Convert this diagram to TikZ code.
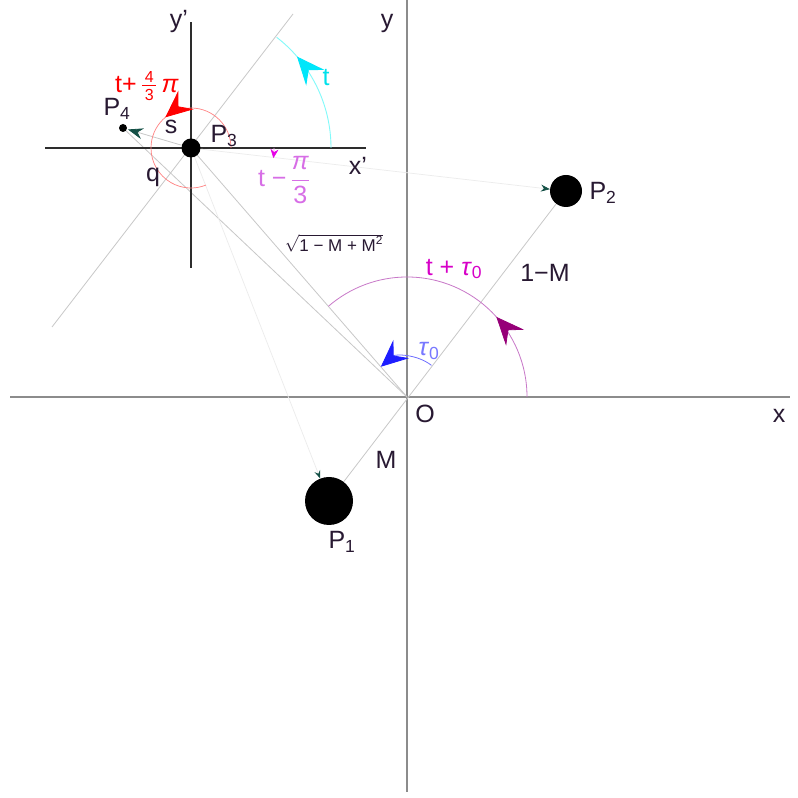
\documentclass[tikz,border=0pt]{standalone}
\usepackage{fontspec}
\setmainfont{Liberation Sans}
\usepackage{amsmath}
\usetikzlibrary{arrows.meta,decorations.markings,calc}
\definecolor{txt}{RGB}{40,25,50}
\definecolor{axisgray}{RGB}{140,140,140}
\definecolor{pgray}{RGB}{45,45,45}
\definecolor{lgray}{RGB}{200,200,200}
\definecolor{fgray}{RGB}{236,236,236}
\definecolor{cyanarc}{RGB}{130,250,250}
\definecolor{cyanarrow}{RGB}{0,230,250}
\definecolor{cyantext}{RGB}{0,225,235}
\definecolor{redarc}{RGB}{255,130,130}
\definecolor{redarrow}{RGB}{255,0,0}
\definecolor{magarc}{RGB}{200,120,200}
\definecolor{magarrow}{RGB}{150,0,120}
\definecolor{magtext}{RGB}{215,0,200}
\definecolor{bluearc}{RGB}{110,110,255}
\definecolor{bluearrow}{RGB}{30,30,255}
\definecolor{bluetext}{RGB}{120,120,255}
\definecolor{violtext}{RGB}{215,110,230}
\definecolor{violarrow}{RGB}{230,0,230}
\definecolor{dgreen}{RGB}{20,80,70}
\newcommand{\smallfr}[1]{\text{\fontsize{16}{17}\selectfont #1}}
\begin{document}
\begin{tikzpicture}[x=1pt,y=1pt,
  font=\fontsize{25}{28}\selectfont,
  every node/.style={text=txt, inner sep=0pt},
  axisline/.style={draw=axisgray, line width=1.8pt},
  paxis/.style={draw=pgray, line width=2.5pt},
  thinline/.style={draw=lgray, line width=0.8pt},
  faintline/.style={draw=fgray, line width=0.7pt},
  dot/.style={circle, fill=black, inner sep=0pt, minimum size=#1},
  midarrow/.style 2 args={postaction={decorate, decoration={markings, mark=at position #1 with {\arrow{#2}}}}}
]
\useasboundingbox (0,0) rectangle (798,798);
\fill[white] (0,0) rectangle (798,798);

\coordinate (O) at (407,401);
\coordinate (P1) at (329,297);
\coordinate (P2) at (566,607);
\coordinate (P3) at (191,650);
\coordinate (P4) at (123,670);
\coordinate (xl) at (10,401);
\coordinate (xr) at (790,401);
\coordinate (yb) at (407,6);
\coordinate (yt) at (407,798);
\coordinate (xpl) at (45,650);
\coordinate (xpr) at (366,650);
\coordinate (ypb) at (191,530);
\coordinate (ypt) at (191,776);
\coordinate (la) at (52,471);
\coordinate (lb) at (293,784);

% axes
\draw[axisline] (xl) -- (xr);
\draw[axisline] (yb) -- (yt);
% thin construction lines
\draw[thinline] (la) -- (lb);
\draw[thinline] (P1) -- (P2);
\draw[thinline] (O) -- (P3);
\draw[thinline] (O) -- (P4);
% rotating axes
\draw[paxis] (xpl) -- (xpr);
\draw[paxis] (ypb) -- (ypt);

% bodies
\node[dot=48pt] (d1) at (P1) {};
\node[dot=32pt] (d2) at (P2) {};
\node[dot=19pt] (d3) at (P3) {};
\node[dot=8pt] (d4) at (P4) {};

% connectors with small arrows
\draw[faintline, -{Stealth[length=9pt,width=7pt,inset=3pt,color=dgreen]}] (d3) -- (d2);
\draw[faintline, -{Stealth[length=8pt,width=6pt,inset=3pt,color=dgreen]}] (d3) -- (d1);
\draw[thinline, -{Stealth[length=15pt,width=11pt,inset=5pt,color=dgreen]}, shorten >=1pt] (d3) -- (d4);

% angle arcs
\draw[cyanarc, line width=0.9pt, midarrow={0.78}{Stealth[length=28pt,width=24pt,inset=10pt,color=cyanarrow]}]
  ($(P3)+(140,0)$) arc[start angle=0, end angle=52.3, radius=140];
\draw[redarc, line width=0.7pt, midarrow={0.445}{Stealth[length=27pt,width=24pt,inset=10pt,color=redarrow]}]
  ($(P3)+(40,0)$) arc[start angle=0, end angle=292, radius=40];
\draw[violarrow!40, line width=0.6pt, -{Stealth[length=9pt,width=8pt,inset=3pt,color=violarrow]}]
  ($(P3)+(83,0)$) arc[start angle=0, end angle=-7, radius=83];
\draw[magarc, line width=0.8pt, midarrow={0.32}{Stealth[length=28pt,width=24pt,inset=10pt,color=magarrow]}]
  ($(O)+(120,0)$) arc[start angle=0, end angle=130.9, radius=120];
\draw[bluearc, line width=0.8pt, -{Stealth[length=27pt,width=24pt,inset=10pt,color=bluearrow]}]
  ($(O)+(52.3:40)$) arc[start angle=52.3, end angle=130.9, radius=40];

% labels
\node (lx) at (779,382) {x};
\node (ly) at (387,775) {y};
\node (lO) at (425,384) {O};
\node (lyp) at (179,776) {y'};
\node (lxp) at (358,632) {x'};
\node (lP3) at (224,662) {P\textsubscript{3}};
\node (lP4) at (117,689) {P\textsubscript{4}};
\node (ls) at (171,671) {s};
\node (lq) at (153,621) {q};
\node (lP2) at (603,605) {P\textsubscript{2}};
\node (lP1) at (342,256) {P\textsubscript{1}};
\node (lM) at (386,338) {M};
\node (l1M) at (545,525) {1−M};
\node[text=magtext] (ltt) at (454,529) {t + \textit{τ}\textsubscript{0}};
\node[text=bluetext] (ltau) at (429,447) {\textit{τ}\textsubscript{0}};
\node[text=cyantext] (lt) at (326,720) {t};
\node[text=redarrow] (lt43) at (147,712) {t+\,$\frac{\smallfr{\,4\,}}{\smallfr{\,3\,}}$\,\textit{π}};
\node[text=violtext] (ltp3) at (284,618) {t −\,$\dfrac{\text{\itshape π}}{\text{3}}$};
\node[font=\fontsize{17}{19}\selectfont] (lsq) at (334,555) {$\sqrt{\text{1 − M + M}^{\text{2}}}$};
\end{tikzpicture}
\end{document}
